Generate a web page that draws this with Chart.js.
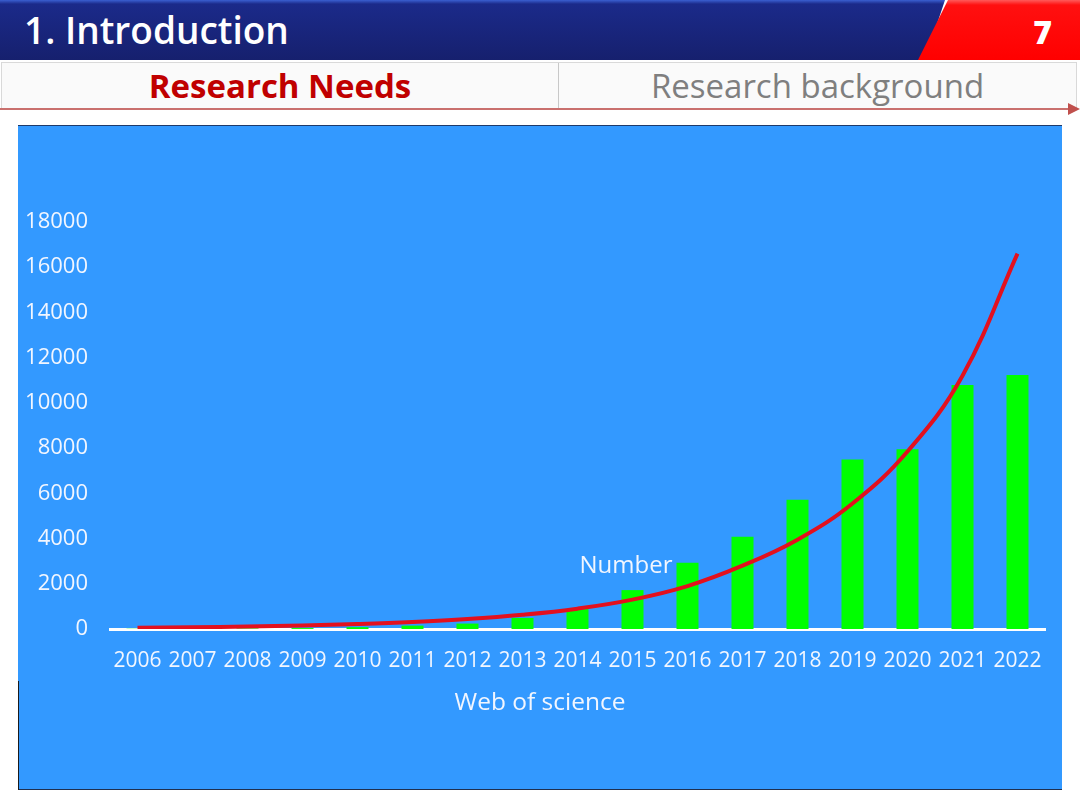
<!DOCTYPE html>
<html>
<head>
<meta charset="utf-8">
<script src="https://cdn.jsdelivr.net/npm/chart.js@4"></script>
<style>
  html, body { margin: 0; padding: 0; background: #ffffff; }
  body { width: 1080px; height: 810px; position: relative; overflow: hidden; font-family: 'Open Sans', sans-serif; }
  .topbar { position: absolute; left: 0; top: 0; width: 960px; height: 60px;
    background: linear-gradient(#3a5fd0 0px, #1b2a8a 4px, #16206e 100%);
    clip-path: polygon(0 0, 945px 0, 925px 60px, 0 60px); }
  .topbar span { position: absolute; left: 24px; top: 7px; color: #fff; font-size: 37px; font-weight: 600; line-height: 46px; }
  .redbox { position: absolute; left: 918px; top: 0; width: 162px; height: 60px;
    background: linear-gradient(#ff5a5a 0px, #ff1010 5px, #ff0000 100%);
    clip-path: polygon(30px 0, 162px 0, 162px 60px, 0 60px); }
  .redbox span { position: absolute; right: 28px; top: 12px; color: #fff; font-size: 32px; font-weight: 800; line-height: 40px; }
  .tabs { position: absolute; left: 1px; top: 62px; width: 1074px; height: 46px; border: 1px solid #d9d9d9; background: #fafafa; }
  .tab1 { position: absolute; left: 0; top: 0; width: 556px; height: 46px; text-align: center; color: #c00000; font-size: 33px; font-weight: 700; line-height: 46px; border-right: 1px solid #c8c8c8; }
  .tab2 { position: absolute; left: 557px; top: 0; width: 517px; height: 46px; text-align: center; color: #7f7f7f; font-size: 33px; line-height: 46px; }
  .rule { position: absolute; left: 0; top: 108px; width: 1072px; height: 2px; background: #c9706e; }
  .arrow { position: absolute; left: 1068px; top: 103px; width: 0; height: 0; border-top: 6px solid transparent; border-bottom: 6px solid transparent; border-left: 12px solid #c0504d; }
  .panel { position: absolute; left: 18px; top: 125px; width: 1044px; height: 665px; background: #3399ff;
    border-top: 1px solid #1f3a6a; border-bottom: 1px solid #1f2f4f; box-sizing: border-box; }
  .leftedge { position: absolute; left: 18px; top: 681px; width: 1px; height: 109px; background: #1a1a1a; }
  .panel canvas { position: absolute; left: 0; top: 0; }
</style>
</head>
<body>
  <div class="topbar"><span>1. Introduction</span></div>
  <div class="redbox"><span>7</span></div>
  <div class="tabs">
    <div class="tab1">Research Needs</div>
    <div class="tab2">Research background</div>
  </div>
  <div class="rule"></div>
  <div class="arrow"></div>
  <div class="panel">
    <canvas id="wosChart" width="1044" height="665"></canvas>
  </div>
  <div class="leftedge"></div>

<script>
// Web of Science publication counts per year, with exponential trend line
var years = ['2006', '2007', '2008', '2009', '2010', '2011', '2012', '2013', '2014',
             '2015', '2016', '2017', '2018', '2019', '2020', '2021', '2022'];
var publications = [10, 15, 25, 40, 80, 150, 240, 490, 880,
                    1720, 2930, 4080, 5720, 7500, 7950, 10790, 11230];
var trendValues = [50, 75, 110, 155, 220, 310, 440, 630, 900,
                   1300, 1900, 2800, 3950, 5550, 7850, 11200, 16600];
var yMin = 0;
var yMax = 18000;
var yStep = 2000;
var axisTitle = 'Web of science';
var numberLabel = 'Number';
var numberLabelYear = '2016';
var numberLabelValue = 2800;

document.addEventListener('DOMContentLoaded', function () {
  var ctx = document.getElementById('wosChart');
  if (!ctx) return;

  // draws the stray "Number" label and the axis title centred on the panel
  var textPlugin = {
    id: 'extraText',
    afterDatasetsDraw: function (chart) {
      var c = chart.ctx;
      var xs = chart.scales.x;
      var ys = chart.scales.y;
      c.save();
      c.fillStyle = '#f2f6ff';
      c.textBaseline = 'middle';

      c.font = '24px "Open Sans", sans-serif';
      c.textAlign = 'right';
      c.fillText(numberLabel, xs.getPixelForValue(years.indexOf(numberLabelYear)) - 15,
        ys.getPixelForValue(numberLabelValue));

      c.font = '24.5px "Open Sans", sans-serif';
      c.textAlign = 'center';
      c.fillText(axisTitle, chart.width / 2, xs.top + 74);
      c.restore();
    }
  };

  new Chart(ctx, {
    type: 'bar',
    data: {
      labels: years,
      datasets: [
        {
          type: 'line',
          label: 'Trend',
          data: trendValues,
          borderColor: '#e3101e',
          borderWidth: 4,
          pointRadius: 0,
          tension: 0.4,
          fill: false,
          order: 0
        },
        {
          label: 'Number',
          data: publications,
          backgroundColor: '#00ff00',
          borderWidth: 0,
          barPercentage: 0.4,
          categoryPercentage: 1.0,
          order: 1
        }
      ]
    },
    options: {
      responsive: false,
      animation: false,
      plugins: {
        legend: { display: false },
        tooltip: { enabled: false }
      },
      layout: {
        padding: { left: 0, right: 17, top: 96, bottom: 0 }
      },
      scales: {
        y: {
          min: yMin,
          max: yMax,
          grid: { display: false, drawTicks: false },
          border: { display: false },
          ticks: {
            stepSize: yStep,
            padding: 22,
            color: '#f2f6ff',
            font: { family: 'Open Sans', size: 22 },
            callback: function (value) { return String(value); }
          },
          afterFit: function (scale) { scale.width = 92; }
        },
        x: {
          grid: { display: false, drawTicks: false },
          border: { display: true, color: '#ffffff', width: 3 },
          ticks: {
            padding: 19,
            maxRotation: 0,
            autoSkip: false,
            color: '#f2f6ff',
            font: { family: 'Open Sans', size: 21 }
          },
          afterFit: function (scale) { scale.height = 162; }
        }
      }
    },
    plugins: [textPlugin]
  });
});
</script>
</body>
</html>
